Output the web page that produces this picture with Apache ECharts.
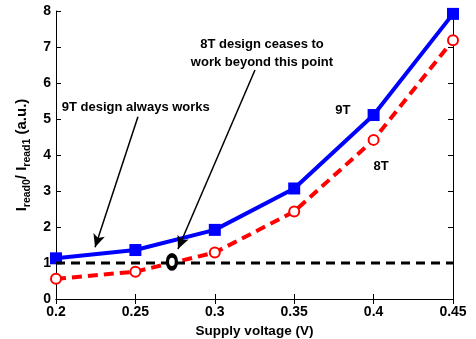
<!DOCTYPE html>
<html><head><meta charset="utf-8">
<script src="https://cdn.jsdelivr.net/npm/echarts@6/dist/echarts.min.js"></script>
<style>html,body{margin:0;padding:0;background:#fff}#c{width:476px;height:339px}</style>
</head><body><div id="c"></div>
<script>
const supplyVoltage = [0.2, 0.25, 0.3, 0.35, 0.4, 0.45];
const ratio9T = [1.13, 1.36, 1.92, 3.07, 5.11, 7.92];
const ratio8T = [0.56, 0.76, 1.29, 2.43, 4.42, 7.19];
const thresholdX = [0.2, 0.45];
const thresholdY = [1, 1];
const crossoverPoint = [0.273, 1.03];
const annotationTexts = ['9T design always works', '8T design ceases to', 'work beyond this point', '9T', '8T'];
const annotationX = [0.2036, 0.3297, 0.3297, 0.3807, 0.4047];
const annotationY = [5.31, 7.06, 6.58, 5.25, 3.67];
const arrowStart = [[0.2516, 5.06], [0.3253, 6.36]];
const arrowEnd = [[0.2246, 1.44], [0.2768, 1.39]];

const FONT = '"Liberation Sans", Arial, sans-serif';
const zip = (a, b) => a.map((v, i) => [v, b[i]]);

const chart = echarts.init(document.getElementById('c'), null, {renderer: 'canvas'});
const axisCommon = {
  axisLine: {show: true, lineStyle: {color: '#000', width: 1}},
  axisTick: {show: true, inside: true, length: 5, lineStyle: {color: '#000'}},
  splitLine: {show: false}
};
chart.setOption({
  animation: false,
  backgroundColor: '#fff',
  grid: {left: 56, right: 23, top: 11, bottom: 40, outerBoundsMode: 'none', containLabel: false},
  xAxis: [
    Object.assign({
      type: 'value', min: 0.2, max: 0.45, interval: 0.05,
      name: 'Supply voltage (V)', nameLocation: 'middle', nameGap: 24,
      nameTextStyle: {fontFamily: FONT, fontWeight: 'bold', fontSize: 13.5, color: '#000'},
      axisLabel: {fontFamily: FONT, fontWeight: 'bold', fontSize: 14, color: '#000', margin: 6}
    }, axisCommon),
    Object.assign({
      type: 'value', min: 0.2, max: 0.45, interval: 0.05, position: 'top',
      axisLabel: {show: false}
    }, axisCommon)
  ],
  yAxis: [
    Object.assign({
      type: 'value', min: 0, max: 8, interval: 1,
      name: '{i|I}{s|read0}{i|/ I}{s|read1}{i| (a.u.)}', nameLocation: 'middle', nameGap: 21,
      nameTextStyle: {
        color: '#000',
        rich: {
          i: {fontFamily: FONT, fontWeight: 'bold', fontSize: 15, color: '#000'},
          s: {fontFamily: FONT, fontWeight: 'bold', fontSize: 10.5, color: '#000', padding: [9, 0, 0, 0]}
        }
      },
      axisLabel: {fontFamily: FONT, fontWeight: 'bold', fontSize: 14, color: '#000', margin: 5}
    }, axisCommon),
    Object.assign({
      type: 'value', min: 0, max: 8, interval: 1, position: 'right',
      axisLabel: {show: false}
    }, axisCommon)
  ],
  series: [
    {
      name: '9T', type: 'line', data: zip(supplyVoltage, ratio9T),
      symbol: 'rect', symbolSize: 12,
      lineStyle: {color: '#0000ff', width: 4},
      itemStyle: {color: '#0000ff'}, z: 3
    },
    {
      name: '8T', type: 'line', data: zip(supplyVoltage, ratio8T),
      symbol: 'emptyCircle', symbolSize: 10,
      lineStyle: {color: '#ff0000', width: 4, type: [10, 6]},
      itemStyle: {color: '#ff0000', borderColor: '#ff0000', borderWidth: 4}, z: 4
    },
    {
      name: 'threshold', type: 'line', data: zip(thresholdX, thresholdY),
      symbol: 'none',
      lineStyle: {color: '#000', width: 3, type: [9, 6]}, z: 5,
      markLine: {
        silent: true, symbol: ['none', 'arrow'], symbolSize: [9, 13],
        label: {show: false},
        lineStyle: {color: '#000', width: 1.5, type: 'solid'},
        data: arrowStart.map((s, i) => [{coord: s}, {coord: arrowEnd[i]}])
      }
    },
    {
      name: 'crossover', type: 'scatter', data: [crossoverPoint],
      symbol: 'circle', symbolSize: [9, 13],
      itemStyle: {color: '#fff', borderColor: '#000', borderWidth: 4, opacity: 1}, z: 6
    },
    {
      name: 'annotations', type: 'scatter', symbolSize: 0, silent: true, z: 7,
      itemStyle: {color: '#000', opacity: 1},
      data: annotationTexts.map((t, i) => ({name: t, value: [annotationX[i], annotationY[i]],
        label: {align: i === 0 ? 'left' : 'center'}})),
      label: {
        show: true, position: 'inside', formatter: p => p.name,
        fontFamily: FONT, fontWeight: 'bold', fontSize: 13, color: '#000',
        textBorderWidth: 0, textBorderColor: 'transparent',
        verticalAlign: 'middle'
      }
    }
  ]
});
</script></body></html>
